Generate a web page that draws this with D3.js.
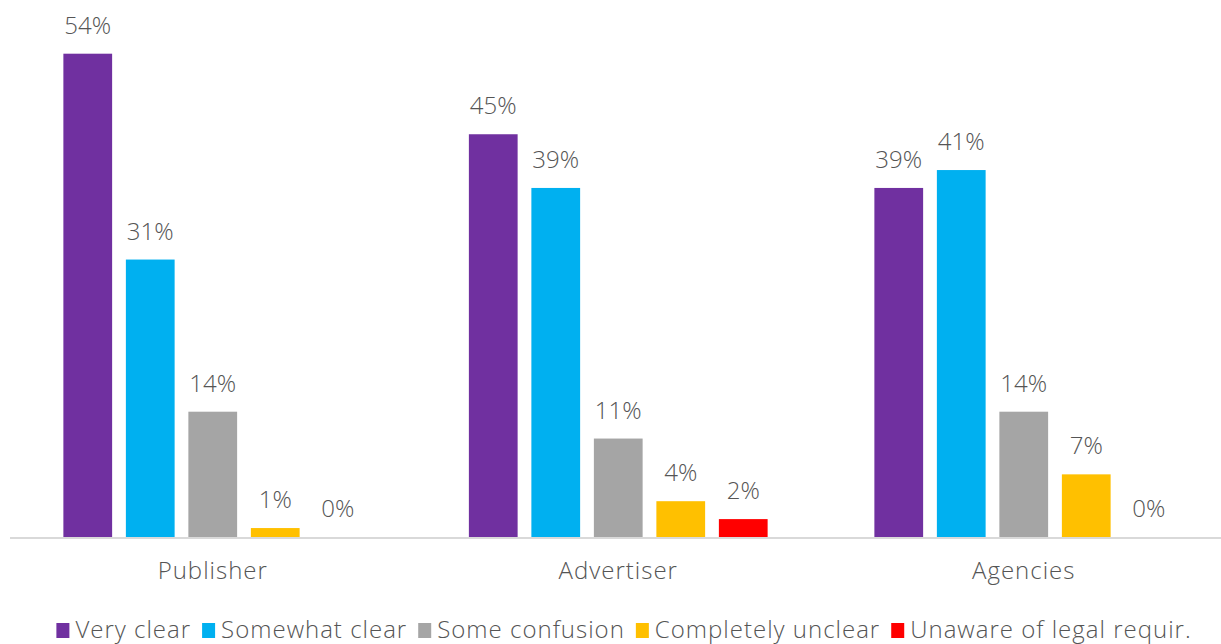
<!DOCTYPE html>
<html>
<head>
<meta charset="utf-8">
<script src="https://cdn.jsdelivr.net/npm/d3@7"></script>
<style>
  html, body { margin: 0; padding: 0; background: #fff; }
  svg { display: block; }
  text { font-family: "Open Sans", "Lato", sans-serif; font-weight: 300; fill: #555555; }
</style>
</head>
<body>
<svg id="chart" width="1221" height="644"></svg>
<script>
// Respondent groups along the x axis
const groups = ["Publisher", "Advertiser", "Agencies"];

// Answer categories (one bar per category within each group)
const seriesNames = ["Very clear", "Somewhat clear", "Some confusion", "Completely unclear", "Unaware of legal requir."];
const seriesColors = ["#7030a0", "#00b0f0", "#a5a5a5", "#ffc000", "#ff0000"];

// Share of respondents (%) per category, in group order
const veryClear         = [54, 45, 39];
const somewhatClear     = [31, 39, 41];
const someConfusion     = [14, 11, 14];
const completelyUnclear = [1, 4, 7];
const unawareLegal      = [0, 2, 0];

const seriesValues = [veryClear, somewhatClear, someConfusion, completelyUnclear, unawareLegal];

const svg = d3.select("#chart");
const W = 1221, H = 644;
const baseY = 537;
const fontSize = 24;

const x0 = d3.scaleBand().domain(groups).range([10, 1226.5]).paddingInner(0).paddingOuter(0);
const x1 = d3.scaleBand().domain(seriesNames).range([0, x0.bandwidth()]).paddingInner(0.22).paddingOuter(0.854);
const y = d3.scaleLinear().domain([0, 60]).range([baseY, 0]);

const rows = [];
groups.forEach((g, gi) => {
  seriesNames.forEach((s, si) => {
    rows.push({ group: g, series: s, value: seriesValues[si][gi], color: seriesColors[si] });
  });
});

// Bars
svg.append("g").selectAll("rect")
  .data(rows)
  .join("rect")
  .attr("x", d => x0(d.group) + x1(d.series))
  .attr("y", d => y(d.value))
  .attr("width", x1.bandwidth())
  .attr("height", d => baseY - y(d.value))
  .attr("fill", d => d.color);

// Value labels
svg.append("g").selectAll("text")
  .data(rows)
  .join("text")
  .attr("x", d => x0(d.group) + x1(d.series) + x1.bandwidth() / 2)
  .attr("y", d => y(d.value) - 20)
  .attr("text-anchor", "middle")
  .attr("font-size", fontSize)
  .text(d => d.value + "%");

// Category axis
const xAxis = svg.append("g").attr("transform", `translate(0,${baseY + 1})`)
  .call(d3.axisBottom(x0).tickSize(0).tickPadding(24));
xAxis.select(".domain").attr("d", `M10,0H${W}`).attr("stroke", "#d9d9d9").attr("stroke-width", 2);
xAxis.selectAll(".tick text")
  .attr("font-size", fontSize)
  .attr("font-family", "'Open Sans', Lato, sans-serif")
  .attr("font-weight", 300)
  .attr("letter-spacing", 1)
  .attr("fill", "#555555");

// Legend
const legend = svg.append("g").attr("transform", "translate(0,638)");
const items = legend.selectAll("g").data(seriesNames).join("g");
items.append("rect").attr("width", 13).attr("height", 15).attr("y", -15)
  .attr("fill", (d, i) => seriesColors[i]);
items.append("text").attr("x", 19).attr("font-size", fontSize)
  .attr("letter-spacing", 1).text(d => d);

let widths = [];
items.each(function () {
  widths.push(19 + d3.select(this).select("text").node().getComputedTextLength());
});
const gap = 11;
const total = d3.sum(widths) + gap * (widths.length - 1);
let cx = 624 - total / 2;
items.each(function (d, i) {
  d3.select(this).attr("transform", `translate(${cx},0)`);
  cx += widths[i] + gap;
});
</script>
</body>
</html>
